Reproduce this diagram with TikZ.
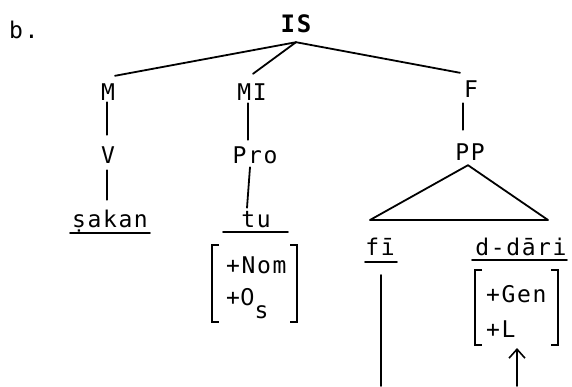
\documentclass[tikz,border=0pt]{standalone}
\usepackage{fontspec}
\setmainfont{DejaVu Sans Mono}[LetterSpace=7]
\newfontfamily\zerofont{DejaVu Sans}
\usetikzlibrary{arrows.meta}
\begin{document}
\begin{tikzpicture}[x=1pt,y=-1pt,
  every node/.style={font=\fontsize{23}{25}\selectfont, inner sep=2pt, text height=14pt, text depth=0pt, anchor=base},
  feat/.style={anchor=base west},
  ln/.style={line width=1.8pt, line cap=round},
  brk/.style={line width=1.8pt}]
\useasboundingbox (0,0) rectangle (572,386);
% labels
\node[anchor=base west] (b) at (7,38) {b.};
\node[font=\fontsize{24}{26}\selectfont\bfseries] (IS) at (296,32) {IS};
\node (M) at (108,100) {M};
\node (MI) at (252,100) {MI};
\node (F) at (471,97) {F};
\node (V) at (108,163) {V};
\node (Pro) at (255,163) {Pro};
\node (PP) at (470,160) {PP};
\node (sakan) at (110,227) {ṣakan};
\node (tu) at (256,227) {tu};
\node (fi) at (380,255) {fī};
\node (ddari) at (521,255) {d-dāri};
\node[feat] (nom1) at (224,273) {+Nom};
\node[feat] (nom2) at (224,305) {+{\zerofont 0}\raisebox{-13pt}{s}};
\node[feat] (gen1) at (484,302) {+Gen};
\node[feat] (gen2) at (484,337) {+L};
% tree lines
\coordinate (isb) at ([yshift=-8pt]IS.south);
\draw[ln] (isb) -- ([xshift=7pt,yshift=8pt]M.north);
\draw[ln] (isb) -- ([xshift=1pt,yshift=10pt]MI.north);
\draw[ln] (isb) -- ([xshift=-11pt,yshift=8pt]F.north);
\draw[ln] ([xshift=-1pt]M.south) -- ([xshift=-1pt,yshift=12pt]V.north);
\draw[ln] ([xshift=-1pt,yshift=-5pt]V.south) -- ([xshift=-3pt,yshift=11pt]sakan.north);
\draw[ln] ([xshift=-4pt,yshift=-1pt]MI.south) -- ([xshift=-7pt,yshift=7pt]Pro.north);
\draw[ln] ([xshift=-5pt,yshift=-2pt]Pro.south) -- ([xshift=-9pt,yshift=3pt]tu.north);
\draw[ln] ([xshift=-8pt,yshift=-4pt]F.south) -- ([xshift=-7pt,yshift=14pt]PP.north);
% triangle
\coordinate (apex) at ([xshift=-2pt,yshift=-3pt]PP.south);
\coordinate (tl) at (370,220);
\coordinate (tr) at (548,220);
\draw[ln, line join=round] (apex) -- (tl) -- (tr) -- cycle;
% underlines
\draw[ln] ([xshift=-40pt,yshift=-6pt]sakan.base) -- ([xshift=40pt,yshift=-6pt]sakan.base);
\draw[ln] ([xshift=-33pt,yshift=-5pt]tu.base) -- ([xshift=32pt,yshift=-5pt]tu.base);
\draw[ln] ([xshift=-15pt,yshift=-7pt]fi.base) -- ([xshift=17pt,yshift=-7pt]fi.base);
\draw[ln] ([xshift=-49pt,yshift=-5pt]ddari.base) -- ([xshift=46pt,yshift=-5pt]ddari.base);
% brackets
\draw[brk] (219,245) -- (212,245) -- (212,322) -- (219,322);
\draw[brk] (290,245) -- (297,245) -- (297,322) -- (290,322);
\draw[brk] (482,270) -- (475,270) -- (475,345) -- (482,345);
\draw[brk] (551,270) -- (558,270) -- (558,345) -- (551,345);
% lower lines
\coordinate (fb) at (381,386);
\coordinate (ab) at (517,386);
\coordinate (atip) at (517,348);
\draw[ln] ([xshift=1pt,yshift=-20pt]fi.base) -- (fb);
\draw[ln, -{Straight Barb[length=9pt,width=16pt,line width=1.6pt]}] (ab) -- (atip);
\end{tikzpicture}
\end{document}
